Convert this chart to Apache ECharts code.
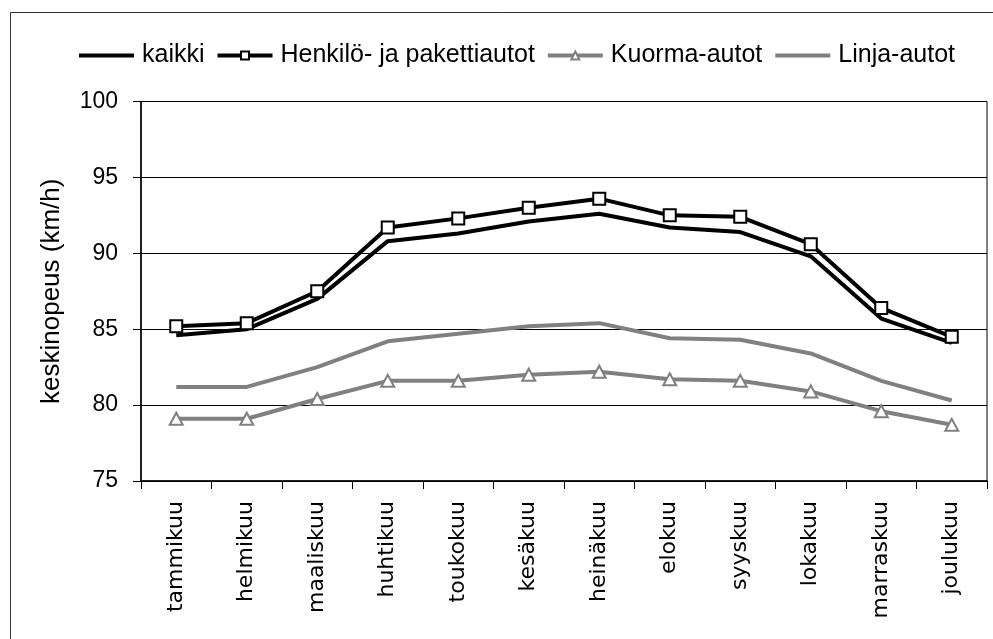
<!DOCTYPE html>
<html>
<head>
<meta charset="utf-8">
<script src="https://cdn.jsdelivr.net/npm/echarts@6/dist/echarts.min.js"></script>
<style>
  html, body { margin: 0; padding: 0; background: #fff; }
  #chart { width: 993px; height: 639px; }
</style>
</head>
<body>
<div id="chart"></div>
<script>
const months = ["tammikuu", "helmikuu", "maaliskuu", "huhtikuu", "toukokuu", "kesäkuu",
  "heinäkuu", "elokuu", "syyskuu", "lokakuu", "marraskuu", "joulukuu"];
const kaikki = [84.6, 85.0, 87.0, 90.8, 91.3, 92.1, 92.6, 91.7, 91.4, 89.8, 85.7, 84.1];
const henkilo = [85.2, 85.4, 87.5, 91.7, 92.3, 93.0, 93.6, 92.5, 92.4, 90.6, 86.4, 84.5];
const kuorma = [79.1, 79.1, 80.4, 81.6, 81.6, 82.0, 82.2, 81.7, 81.6, 80.9, 79.6, 78.7];
const linja = [81.2, 81.2, 82.5, 84.2, 84.7, 85.2, 85.4, 84.4, 84.3, 83.4, 81.6, 80.3];
const yTicks = [75, 80, 85, 90, 95, 100];

const gray = "#808080";
const chart = echarts.init(document.getElementById("chart"));

// legendin ikoni ilman merkkiä
const noMark = { color: "transparent", borderColor: "transparent", borderWidth: 0 };

const options = {
  animation: false,
  backgroundColor: "#fff",
  graphic: [
    // ulkoreunus
    {
      type: "rect",
      left: 8, top: 10,
      shape: { width: 1000, height: 700 },
      style: { fill: "none", stroke: "#333", lineWidth: 1 },
      silent: true
    }
  ],
  legend: {
    left: 72,
    top: 38,
    itemWidth: 55,
    itemHeight: 10,
    itemGap: 11,
    lineStyle: { width: 4 },
    textStyle: {
      fontFamily: "Liberation Sans",
      fontSize: 25,
      color: "#000",
      padding: [0, 0, 0, 3]
    },
    data: [
      { name: "kaikki", itemStyle: noMark },
      { name: "Henkilö- ja pakettiautot" },
      { name: "Kuorma-autot" },
      { name: "Linja-autot", itemStyle: noMark }
    ]
  },
  grid: {
    left: 141,
    right: 6,
    top: 101.5,
    bottom: 158,
    show: true,
    borderColor: "#000",
    borderWidth: 1
  },
  xAxis: {
    type: "category",
    data: months,
    axisLine: { lineStyle: { color: "#000", width: 1.5 } },
    axisTick: { show: true, length: 8, lineStyle: { color: "#000" } },
    axisLabel: {
      rotate: 90,
      margin: 20,
      fontFamily: "DejaVu Sans",
      fontSize: 22,
      color: "#000"
    }
  },
  yAxis: {
    type: "value",
    min: yTicks[0],
    max: yTicks[yTicks.length - 1],
    interval: 5,
    name: "keskinopeus (km/h)",
    nameLocation: "middle",
    nameRotate: 90,
    nameGap: 76,
    nameTextStyle: {
      fontFamily: "Liberation Sans",
      fontSize: 26,
      color: "#000"
    },
    axisLine: { show: true, lineStyle: { color: "#000", width: 1.5 } },
    axisTick: { show: true, length: 8, lineStyle: { color: "#000" } },
    axisLabel: {
      margin: 23,
      fontFamily: "Liberation Sans",
      fontSize: 23,
      color: "#000"
    },
    splitLine: { show: true, lineStyle: { color: "#000", width: 1 } }
  },
  series: [
    {
      name: "kaikki",
      type: "line",
      data: kaikki,
      symbol: "none",
      lineStyle: { color: "#000", width: 4 },
      itemStyle: { color: "#000" },
      z: 3
    },
    {
      name: "Henkilö- ja pakettiautot",
      type: "line",
      data: henkilo,
      symbol: "rect",
      symbolSize: 12,
      lineStyle: { color: "#000", width: 4 },
      itemStyle: { color: "#fff", borderColor: "#000", borderWidth: 2 },
      z: 4
    },
    {
      name: "Kuorma-autot",
      type: "line",
      data: kuorma,
      symbol: "triangle",
      symbolSize: [13, 12],
      lineStyle: { color: gray, width: 4 },
      itemStyle: { color: "#fff", borderColor: gray, borderWidth: 2 },
      z: 3
    },
    {
      name: "Linja-autot",
      type: "line",
      data: linja,
      symbol: "none",
      lineStyle: { color: gray, width: 4 },
      itemStyle: { color: gray },
      z: 2
    }
  ]
};

chart.setOption(options);
window.addEventListener("resize", () => chart.resize());
</script>
</body>
</html>
